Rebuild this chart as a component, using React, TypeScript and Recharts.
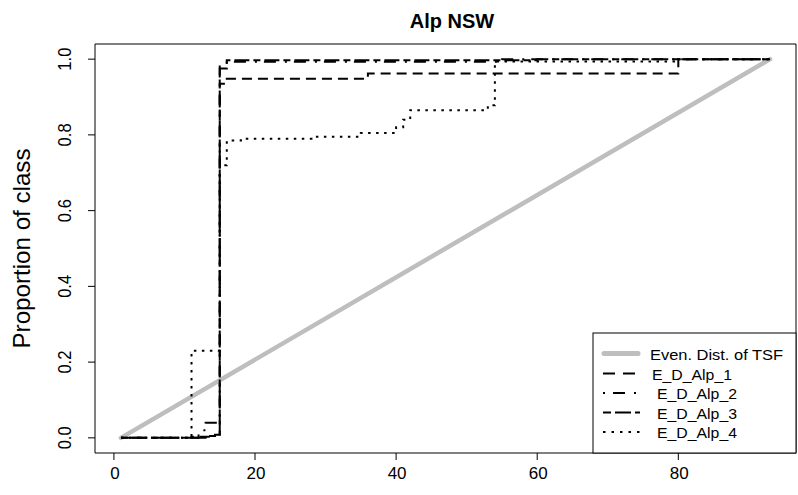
import { LineChart, Line, XAxis, YAxis, ReferenceArea, Label } from 'recharts';

const FONT = '"Liberation Sans", Arial, sans-serif';

const xTicks = [0, 20, 40, 60, 80];
const yTicks = [0, 0.2, 0.4, 0.6, 0.8, 1.0];

// even distribution of TSF (straight line from first to last year)
const evenX = [1, 93];
const evenY = [0, 1];

// step series, breakpoints only (value holds until next x)
const alp1X = [1, 11, 14, 15, 16, 36, 80, 93];
const alp1Y = [0, 0.003, 0.008, 0.935, 0.948, 0.962, 1.0, 1.0];

const alp2X = [1, 12, 13, 15, 16, 55, 93];
const alp2Y = [0, 0.02, 0.04, 0.985, 0.993, 1.0, 1.0];

const alp3X = [1, 13, 15, 16, 60, 93];
const alp3Y = [0, 0.005, 0.975, 0.997, 1.0, 1.0];

const alp4X = [1, 11, 15, 16, 18, 28, 35, 40, 41, 42, 53, 54, 80, 93];
const alp4Y = [0, 0.23, 0.72, 0.785, 0.79, 0.795, 0.805, 0.82, 0.84, 0.865, 0.878, 0.994, 1.0, 1.0];

const legendNames = ['Even. Dist. of TSF', 'E_D_Alp_1', 'E_D_Alp_2', 'E_D_Alp_3', 'E_D_Alp_4'];

function toPoints(xs: number[], ys: number[]) {
  return xs.map((x, i) => ({ x, y: ys[i] }));
}

const series = [
  { name: legendNames[1], data: toPoints(alp1X, alp1Y), dash: '10 6', legendDash: '12 8' },
  { name: legendNames[2], data: toPoints(alp2X, alp2Y), dash: '2 7 12 9', legendDash: '2 8 12 9' },
  { name: legendNames[3], data: toPoints(alp3X, alp3Y), dash: '7 4 15 4', legendDash: '8 4 16 4' },
  { name: legendNames[4], data: toPoints(alp4X, alp4Y), dash: '2.5 5.5', legendDash: '2.5 6' },
];

function XTick({ x, y, payload }: any) {
  return (
    <text x={x + 1} y={y + 17} textAnchor="middle" fontSize={17} fontFamily={FONT} fill="#000">
      {String(payload.value)}
    </text>
  );
}

function YTick({ x, y, payload }: any) {
  return (
    <text
      transform={`translate(${x - 15},${y}) rotate(-90)`}
      textAnchor="middle"
      fontSize={18}
      fontFamily={FONT}
      fill="#000"
      textLength={23}
      lengthAdjust="spacingAndGlyphs"
    >
      {Number(payload.value).toFixed(1)}
    </text>
  );
}

function LegendBox() {
  const left = 593;
  const top = 333;
  const rows = [353.5, 373.5, 393, 412.5, 432];
  const textX = [650, 652, 657, 657, 657];
  const textLen = [133, 80, 80, 80, 80];
  return (
    <svg
      width={798}
      height={495}
      style={{ position: 'absolute', left: 0, top: 0, pointerEvents: 'none' }}
    >
      <rect x={left} y={top} width={203} height={120} fill="#fff" stroke="#000" strokeWidth={1} />
      <line x1={604} x2={638} y1={rows[0]} y2={rows[0]} stroke="#bebebe" strokeWidth={5} strokeLinecap="round" />
      {series.map((s, i) => (
        <line
          key={s.name}
          x1={603}
          x2={640}
          y1={rows[i + 1]}
          y2={rows[i + 1]}
          stroke="#000"
          strokeWidth={2}
          strokeDasharray={s.legendDash}
        />
      ))}
      {legendNames.map((n, i) => (
        <text
          key={n}
          x={textX[i]}
          y={rows[i] + 6}
          fontSize={14}
          fontFamily={FONT}
          fill="#000"
          textLength={textLen[i]}
          lengthAdjust="spacingAndGlyphs"
        >
          {n}
        </text>
      ))}
    </svg>
  );
}

export default function App() {
  return (
    <div style={{ position: 'absolute', left: 0, top: 0, width: 798, height: 495, background: '#fff' }}>
      <LineChart width={798} height={495} margin={{ top: 44, right: 2, bottom: 0, left: 0 }}>
        <text x={452} y={28} textAnchor="middle" fontSize={20} fontWeight="bold" fontFamily={FONT} fill="#000">
          Alp NSW
        </text>
        <XAxis
          dataKey="x"
          type="number"
          domain={[-2.68, 96.68]}
          ticks={xTicks}
          allowDataOverflow
          axisLine={false}
          tickSize={7}
          tickLine={{ stroke: '#000' }}
          tick={<XTick />}
          height={42}
        />
        <YAxis
          type="number"
          domain={[-0.04, 1.04]}
          ticks={yTicks}
          allowDataOverflow
          axisLine={false}
          tickSize={7}
          tickLine={{ stroke: '#000' }}
          tick={<YTick />}
          width={95}
        >
          <Label
            value="Proportion of class"
            angle={-90}
            position="insideLeft"
            offset={0}
            content={({ viewBox }: any) => (
              <text
                transform={`translate(30,${viewBox.y + viewBox.height / 2}) rotate(-90)`}
                textAnchor="middle"
                fontSize={24}
                fontFamily={FONT}
                fill="#000"
                textLength={200}
                lengthAdjust="spacingAndGlyphs"
              >
                Proportion of class
              </text>
            )}
          />
        </YAxis>
        <ReferenceArea x1={-2.68} x2={96.68} y1={-0.04} y2={1.04} fill="none" stroke="#000" strokeWidth={1} ifOverflow="visible" />
        <Line
          data={toPoints(evenX, evenY)}
          dataKey="y"
          type="linear"
          stroke="#bebebe"
          strokeWidth={4.5}
          strokeLinecap="round"
          dot={false}
          isAnimationActive={false}
        />
        {series.map((s) => (
          <Line
            key={s.name}
            data={s.data}
            dataKey="y"
            name={s.name}
            type="stepAfter"
            stroke="#000"
            strokeWidth={2}
            strokeDasharray={s.dash}
            dot={false}
            isAnimationActive={false}
          />
        ))}
      </LineChart>
      <LegendBox />
    </div>
  );
}
